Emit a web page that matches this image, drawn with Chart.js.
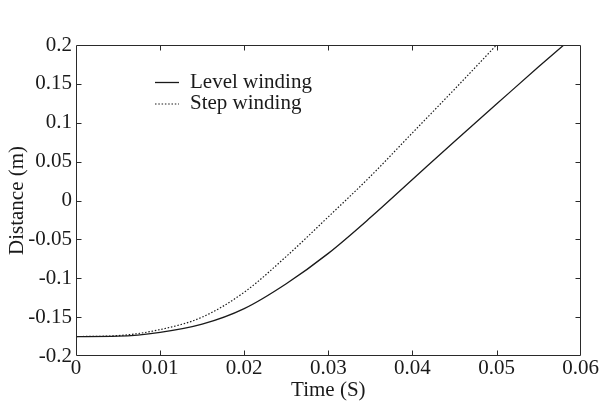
<!DOCTYPE html>
<html>
<head>
<meta charset="utf-8">
<script src="https://cdn.jsdelivr.net/npm/chart.js@4.4.1/dist/chart.umd.min.js"></script>
<style>
  html, body { margin: 0; padding: 0; background: #fff; }
  canvas { display: block; }
</style>
</head>
<body>
<canvas id="chart-1" width="599" height="403"></canvas>
<script>
// values
const timeLevel = [0, 0.005, 0.01, 0.015, 0.02, 0.025, 0.03, 0.035, 0.04, 0.045, 0.05, 0.055, 0.058];
const distLevel = [-0.175, -0.1745, -0.1695, -0.159, -0.139, -0.107, -0.068, -0.022, 0.027, 0.076, 0.124, 0.172, 0.2];
const timeStep = [0, 0.005, 0.01, 0.015, 0.02, 0.025, 0.03, 0.035, 0.04, 0.045, 0.05];
const distStep = [-0.175, -0.1738, -0.166, -0.15, -0.118, -0.072, -0.021, 0.031, 0.087, 0.143, 0.2];
const seriesNames = ["Level winding", "Step winding"];
const xTicks = [0, 0.01, 0.02, 0.03, 0.04, 0.05, 0.06];
const xTickLabels = ["0", "0.01", "0.02", "0.03", "0.04", "0.05", "0.06"];
const yTicks = [-0.2, -0.15, -0.1, -0.05, 0, 0.05, 0.1, 0.15, 0.2];
const yTickLabels = ["-0.2", "-0.15", "-0.1", "-0.05", "0", "0.05", "0.1", "0.15", "0.2"];

const ink = "#1a1a1a";
const fontFamily = "'Liberation Serif', 'DejaVu Serif', serif";
const fontSize = 21;

// box round the plot with ticks pointing inwards on all four sides
const frameTicks = {
  id: "frameTicks",
  afterDatasetsDraw(chart) {
    const { ctx, chartArea: a, scales } = chart;
    const l = Math.round(a.left) + 0.5, r = Math.round(a.right) - 0.5;
    const t = Math.round(a.top) + 0.5, b = Math.round(a.bottom) - 0.5;
    const len = 5;
    ctx.save();
    ctx.strokeStyle = "#2a2a2a";
    ctx.lineWidth = 1;
    ctx.beginPath();
    ctx.rect(l, t, r - l, b - t);
    scales.x.ticks.forEach(tk => {
      const px = Math.round(scales.x.getPixelForValue(tk.value)) + 0.5;
      if (px <= l + 1 || px >= r - 1) return;
      ctx.moveTo(px, b); ctx.lineTo(px, b - len);
      ctx.moveTo(px, t); ctx.lineTo(px, t + len);
    });
    scales.y.ticks.forEach(tk => {
      const py = Math.round(scales.y.getPixelForValue(tk.value)) + 0.5;
      if (py <= t + 1 || py >= b - 1) return;
      ctx.moveTo(l, py); ctx.lineTo(l + len, py);
      ctx.moveTo(r, py); ctx.lineTo(r - len, py);
    });
    ctx.stroke();
    ctx.restore();
  }
};

// legend inside the plot, top left
const insideLegend = {
  id: "insideLegend",
  afterDraw(chart) {
    const { ctx, chartArea: a } = chart;
    ctx.save();
    ctx.font = fontSize + "px " + fontFamily;
    ctx.fillStyle = ink;
    ctx.textBaseline = "alphabetic";
    chart.data.datasets.forEach((ds, i) => {
      const y = a.top + 37.5 + i * 21.5;
      ctx.strokeStyle = ds.borderColor;
      ctx.lineWidth = ds.borderWidth;
      ctx.setLineDash(ds.borderDash || []);
      ctx.beginPath();
      ctx.moveTo(a.left + 79, y);
      ctx.lineTo(a.left + 103, y);
      ctx.stroke();
      ctx.setLineDash([]);
      ctx.fillText(ds.label, a.left + 114, y + 5);
    });
    ctx.restore();
  }
};

const myChart1 = new Chart(document.getElementById("chart-1"), {
  type: "line",
  data: {
    datasets: [{
      label: seriesNames[0],
      data: timeLevel.map((t, i) => ({ x: t, y: distLevel[i] })),
      borderColor: ink,
      borderWidth: 1.3,
      pointRadius: 0,
      fill: false,
      cubicInterpolationMode: "monotone"
    }, {
      label: seriesNames[1],
      data: timeStep.map((t, i) => ({ x: t, y: distStep[i] })),
      borderColor: ink,
      borderWidth: 1.2,
      borderDash: [1.5, 1.8],
      pointRadius: 0,
      fill: false,
      cubicInterpolationMode: "monotone"
    }]
  },
  options: {
    responsive: false,
    animation: false,
    layout: { padding: { left: 0, right: 18, top: 45, bottom: 0 } },
    plugins: {
      legend: { display: false },
      tooltip: { enabled: false }
    },
    scales: {
      x: {
        type: "linear",
        min: 0,
        max: 0.06,
        afterBuildTicks: s => { s.ticks = xTicks.map(v => ({ value: v })); },
        afterFit: s => { s.height = 47; },
        grid: { display: false, drawTicks: false },
        border: { display: false },
        ticks: {
          padding: 0,
          color: ink,
          font: { family: fontFamily, size: fontSize },
          maxRotation: 0,
          autoSkip: false,
          callback: (v, i) => xTickLabels[i]
        },
        title: {
          display: true,
          text: "Time (S)",
          color: ink,
          font: { family: fontFamily, size: fontSize },
          padding: { top: 0, bottom: 0 }
        }
      },
      y: {
        min: -0.2,
        max: 0.2,
        afterBuildTicks: s => { s.ticks = yTicks.map(v => ({ value: v })); },
        afterFit: s => { s.width = 76; },
        grid: { display: false, drawTicks: false },
        border: { display: false },
        ticks: {
          padding: 4,
          color: ink,
          font: { family: fontFamily, size: fontSize },
          autoSkip: false,
          callback: (v, i) => yTickLabels[i]
        },
        title: {
          display: true,
          text: "Distance (m)",
          color: ink,
          font: { family: fontFamily, size: fontSize },
          padding: { top: 5, bottom: 0 }
        }
      }
    }
  },
  plugins: [frameTicks, insideLegend]
});
</script>
</body>
</html>
